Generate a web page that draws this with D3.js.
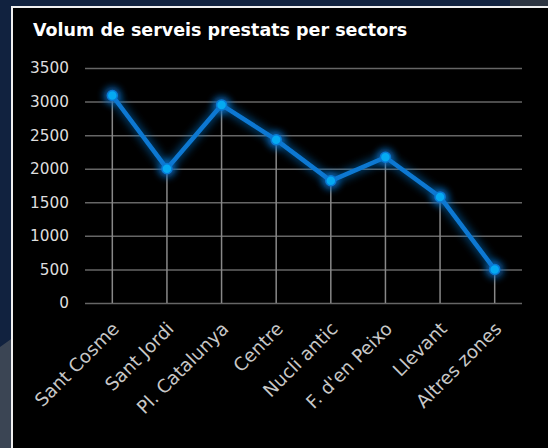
<!DOCTYPE html>
<html>
<head>
<meta charset="utf-8">
<script src="https://cdn.jsdelivr.net/npm/d3@7"></script>
<style>
  html, body { margin: 0; padding: 0; background: #11223f; }
  #chart { width: 548px; height: 448px; }
</style>
</head>
<body>
<div id="chart"></div>
<script>
const sectors = ["Sant Cosme", "Sant Jordi", "Pl. Catalunya", "Centre", "Nucli antic", "F. d'en Peixo", "Llevant", "Altres zones"];
const serveis = [3090, 2000, 2950, 2430, 1820, 2170, 1580, 500];
const yTicks = [0, 500, 1000, 1500, 2000, 2500, 3000, 3500];

const width = 548;
const height = 448;
const margin = { top: 68, left: 85, right: 26, bottom: 145 };

const svg = d3.select("#chart")
    .append("svg")
    .attr("width", width)
    .attr("height", height);

// background pieces
svg.append("rect").attr("width", width).attr("height", height).attr("fill", "#11223f");
svg.append("polygon")
    .attr("points", "0,347 14,337 14,448 0,448")
    .attr("fill", "#3b4554");
svg.append("rect").attr("x", 510).attr("y", 0).attr("width", 38).attr("height", 7).attr("fill", "#2e3642");

// panel
svg.append("rect")
    .attr("x", 12).attr("y", 7)
    .attr("width", width).attr("height", height)
    .attr("fill", "#000")
    .attr("stroke", "#f0f0f0")
    .attr("stroke-width", 2);

// glow filters
const defs = svg.append("defs");
const glow = defs.append("filter").attr("id", "glow")
    .attr("x", "-20%").attr("y", "-20%").attr("width", "140%").attr("height", "140%");
glow.append("feGaussianBlur").attr("in", "SourceGraphic").attr("stdDeviation", 5).attr("result", "blur");
const merge = glow.append("feMerge");
merge.append("feMergeNode").attr("in", "blur");
merge.append("feMergeNode").attr("in", "SourceGraphic");

const soft = defs.append("filter").attr("id", "soft")
    .attr("x", "-100%").attr("y", "-100%").attr("width", "300%").attr("height", "300%");
soft.append("feGaussianBlur").attr("stdDeviation", 3.5);

svg.append("text")
    .attr("x", 33)
    .attr("y", 36)
    .attr("fill", "#fff")
    .attr("font-family", "DejaVu Sans, Verdana, sans-serif")
    .attr("font-weight", "bold")
    .attr("font-size", "17.5px")
    .text("Volum de serveis prestats per sectors");

/*
SCALES
*/
const xScale = d3.scaleBand()
    .domain(sectors)
    .range([margin.left, width - margin.right]);

const yScale = d3.scaleLinear()
    .domain([0, 3500])
    .range([height - margin.bottom, margin.top]);

const cx = d => xScale(d) + xScale.bandwidth() / 2;

/*
GRID + AXES
*/
svg.append("g")
    .attr("class", "y-grid")
    .attr("transform", `translate(${margin.left},0)`)
    .call(d3.axisLeft(yScale).tickValues(yTicks).tickSize(-(width - margin.left - margin.right)).tickFormat(""))
    .call(g => g.select(".domain").remove())
    .call(g => g.selectAll("line").attr("stroke", "#666").attr("stroke-width", 1.5));

const yAxis = svg.append("g")
    .attr("transform", `translate(${margin.left - 16},0)`)
    .call(d3.axisLeft(yScale).tickValues(yTicks).tickFormat(d3.format("d")).tickSize(0).tickPadding(0))
    .call(g => g.select(".domain").remove());
yAxis.selectAll("text")
    .attr("fill", "#dedede")
    .attr("font-family", "DejaVu Sans, Verdana, sans-serif")
    .attr("font-size", "15.3px");

// drop lines
svg.selectAll(".drop")
    .data(sectors)
    .enter()
    .append("line")
    .attr("class", "drop")
    .attr("x1", d => cx(d))
    .attr("x2", d => cx(d))
    .attr("y1", (d, i) => yScale(serveis[i]))
    .attr("y2", yScale(0))
    .attr("stroke", "#888")
    .attr("stroke-width", 1.5);

const xAxis = svg.append("g")
    .attr("transform", `translate(0,${height - margin.bottom})`)
    .call(d3.axisBottom(xScale).tickSize(0).tickPadding(0))
    .call(g => g.select(".domain").remove());
xAxis.selectAll("text")
    .attr("fill", "#c8c8c8")
    .attr("font-family", "DejaVu Sans, Verdana, sans-serif")
    .attr("font-size", "18.3px")
    .attr("text-anchor", "end")
    .attr("dy", null)
    .attr("y", 0)
    .attr("transform", "translate(8,27) rotate(-45)");

/*
LINE + POINTS
*/
const line = d3.line()
    .x(d => cx(d[0]))
    .y(d => yScale(d[1]));

const pts = sectors.map((s, i) => [s, serveis[i]]);

// halos behind the points
svg.selectAll(".halo")
    .data(pts)
    .enter()
    .append("circle")
    .attr("class", "halo")
    .attr("cx", d => cx(d[0]))
    .attr("cy", d => yScale(d[1]))
    .attr("r", 9)
    .attr("fill", "#0b66b8")
    .attr("opacity", 0.8)
    .attr("filter", "url(#soft)");

svg.append("path")
    .datum(pts)
    .attr("d", line)
    .attr("fill", "none")
    .attr("stroke", "#0a78d2")
    .attr("stroke-width", 4.5)
    .attr("filter", "url(#glow)");

svg.selectAll(".pt")
    .data(pts)
    .enter()
    .append("circle")
    .attr("class", "pt")
    .attr("cx", d => cx(d[0]))
    .attr("cy", d => yScale(d[1]))
    .attr("r", 5)
    .attr("fill", "#05aaf2")
    .attr("stroke", "#0a78d2")
    .attr("stroke-width", 1.5);
</script>
</body>
</html>
